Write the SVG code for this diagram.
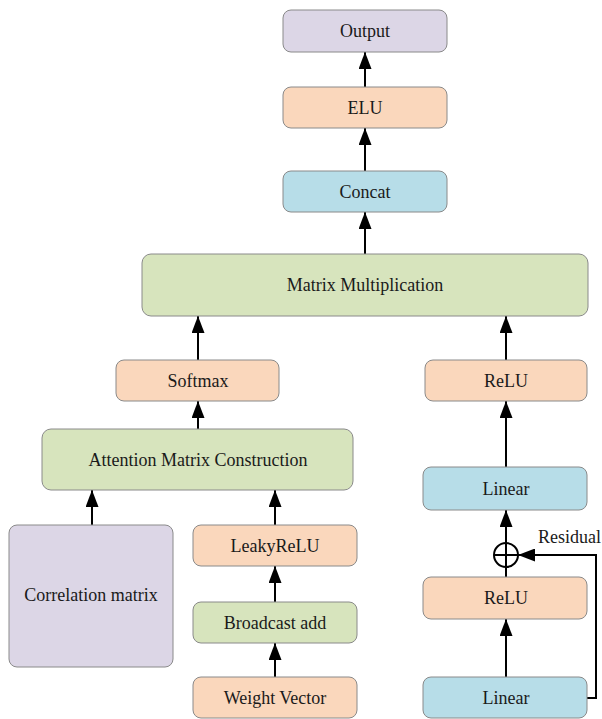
<svg xmlns="http://www.w3.org/2000/svg" width="602" height="719" viewBox="0 0 602 719">
<defs>
<style>
.n rect{stroke:#8a8a8a;stroke-width:1}
.p{fill:#DCD6E6}.o{fill:#FAD7BC}.b{fill:#B7DDE8}.g{fill:#D7E4BD}
text{font-family:"Liberation Serif","Times New Roman",serif;font-size:18px;fill:#1a1a1a;text-anchor:middle}
.c line,.c path{stroke:#000;stroke-width:2;fill:none}
</style>
<marker id="ah" markerUnits="userSpaceOnUse" markerWidth="17" markerHeight="13" viewBox="0 0 17 13" refX="17" refY="6.5" orient="auto">
<path d="M0,0 L17,6.5 L0,13 z" fill="#000"/>
</marker>
</defs>
<rect width="602" height="719" fill="#fff"/>
<g class="c" id="connectors">
<line x1="365" y1="87" x2="365" y2="52" marker-end="url(#ah)"/>
<line x1="365" y1="171" x2="365" y2="128" marker-end="url(#ah)"/>
<line x1="365" y1="254" x2="365" y2="212" marker-end="url(#ah)"/>
<line x1="198" y1="360" x2="198" y2="316" marker-end="url(#ah)"/>
<line x1="506" y1="360" x2="506" y2="316" marker-end="url(#ah)"/>
<line x1="198" y1="429" x2="198" y2="401" marker-end="url(#ah)"/>
<line x1="506" y1="467" x2="506" y2="401" marker-end="url(#ah)"/>
<line x1="92" y1="525" x2="92" y2="490" marker-end="url(#ah)"/>
<line x1="275" y1="525" x2="275" y2="490" marker-end="url(#ah)"/>
<line x1="275" y1="602" x2="275" y2="566" marker-end="url(#ah)"/>
<line x1="275" y1="677" x2="275" y2="643" marker-end="url(#ah)"/>
<line x1="506" y1="543" x2="506" y2="510" marker-end="url(#ah)"/>
<line x1="506" y1="577" x2="506" y2="567"/>
<line x1="506" y1="677" x2="506" y2="619" marker-end="url(#ah)"/>
<path d="M587,698 H596 V555 H518" marker-end="url(#ah)"/>
<circle cx="506" cy="555" r="12" fill="none" stroke="#000" stroke-width="2"/>
<line x1="494" y1="555" x2="518" y2="555"/>
<line x1="506" y1="543" x2="506" y2="567"/>
</g>
<g class="n" id="output"><rect class="p" x="283" y="10" width="164" height="42" rx="8"/><text x="365" y="37">Output</text></g>
<g class="n" id="elu"><rect class="o" x="283" y="87" width="164" height="41" rx="8"/><text x="365" y="114">ELU</text></g>
<g class="n" id="concat"><rect class="b" x="283" y="171" width="164" height="41" rx="8"/><text x="365" y="198">Concat</text></g>
<g class="n" id="matmul"><rect class="g" x="142" y="254" width="446" height="62" rx="9"/><text x="365" y="291">Matrix Multiplication</text></g>
<g class="n" id="softmax"><rect class="o" x="116" y="360" width="163" height="41" rx="8"/><text x="198" y="387">Softmax</text></g>
<g class="n" id="relu-top"><rect class="o" x="425" y="360" width="162" height="41" rx="8"/><text x="506" y="387">ReLU</text></g>
<g class="n" id="attention"><rect class="g" x="42" y="429" width="311" height="61" rx="9"/><text x="198" y="466">Attention Matrix Construction</text></g>
<g class="n" id="linear-top"><rect class="b" x="423" y="467" width="164" height="43" rx="8"/><text x="506" y="495">Linear</text></g>
<g class="n" id="correlation"><rect class="p" x="9" y="525" width="164" height="142" rx="8"/><text x="91" y="601">Correlation matrix</text></g>
<g class="n" id="leakyrelu"><rect class="o" x="193" y="525" width="164" height="41" rx="8"/><text x="275" y="552">LeakyReLU</text></g>
<g class="n" id="broadcast"><rect class="g" x="193" y="602" width="164" height="41" rx="8"/><text x="275" y="629">Broadcast add</text></g>
<g class="n" id="weight"><rect class="o" x="193" y="677" width="164" height="41" rx="8"/><text x="275" y="704">Weight Vector</text></g>
<g class="n" id="relu-bottom"><rect class="o" x="423" y="577" width="164" height="42" rx="8"/><text x="506" y="604">ReLU</text></g>
<g class="n" id="linear-bottom"><rect class="b" x="423" y="677" width="164" height="41" rx="8"/><text x="506" y="704">Linear</text></g>
<g id="residual-label"><text x="538" y="543" style="text-anchor:start">Residual</text></g>
</svg>
